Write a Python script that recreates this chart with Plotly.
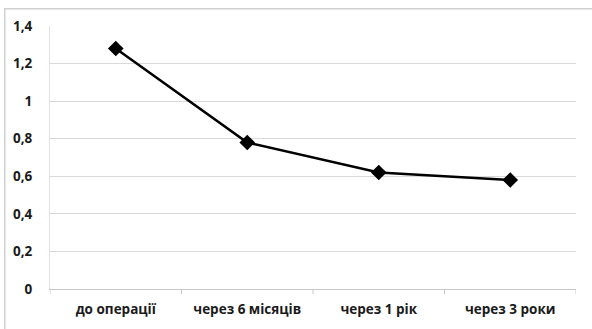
import plotly.graph_objects as go

# Показник у динаміці після операції
categories = ["до операції", "через 6 місяців", "через 1 рік", "через 3 роки"]
values = [1.28, 0.78, 0.62, 0.58]
y_ticks = [0, 0.2, 0.4, 0.6, 0.8, 1.0, 1.2, 1.4]
y_tick_labels = ["0", "0,2", "0,4", "0,6", "0,8", "1", "1,2", "1,4"]

font_family = "'Open Sans', Lato, sans-serif"
tick_font = dict(family=font_family, size=13.5, color="#1a1a1a")

fig = go.Figure()
fig.add_trace(go.Scatter(
    x=list(range(len(categories))),
    y=values,
    mode="lines+markers",
    line=dict(color="#000000", width=2.5),
    marker=dict(symbol="diamond", size=12, color="#000000"),
    showlegend=False,
))

fig.update_layout(
    width=592,
    height=329,
    margin=dict(l=50, r=16, t=26, b=40),
    paper_bgcolor="#ffffff",
    plot_bgcolor="#ffffff",
    font=dict(family=font_family, size=13, color="#1a1a1a"),
    xaxis=dict(
        range=[-0.5, len(categories) - 0.5],
        tickvals=list(range(len(categories))),
        ticktext=[f"<b>{c}</b>" for c in categories],
        ticks="",
        showline=True,
        linecolor="#c8c8c8",
        linewidth=1,
        showgrid=False,
        zeroline=False,
        ticklabelstandoff=8,
        tickfont=tick_font,
    ),
    yaxis=dict(
        range=[0, 1.4],
        tickvals=y_ticks,
        ticktext=[f"<b>{t}</b>" for t in y_tick_labels],
        showgrid=True,
        gridcolor="#d9d9d9",
        gridwidth=1,
        showline=True,
        linecolor="#e0e0e0",
        zeroline=False,
        ticks="",
        ticklabelstandoff=14,
        tickfont=tick_font,
    ),
    shapes=[
        # outer chart frame
        dict(
            type="rect", xref="paper", yref="paper",
            x0=-0.086, x1=1.05, y0=-0.25, y1=1.066,
            line=dict(color="#d0d0d0", width=1.5),
            fillcolor="rgba(0,0,0,0)",
            layer="below",
        ),
    ]
    # category boundary ticks below the x axis
    + [
        dict(
            type="line", xref="x", yref="paper",
            x0=b - 0.5, x1=b - 0.5, y0=0, y1=-0.02,
            line=dict(color="#c8c8c8", width=1),
        )
        for b in range(len(categories) + 1)
    ],
)

fig.write_html("out.html")
